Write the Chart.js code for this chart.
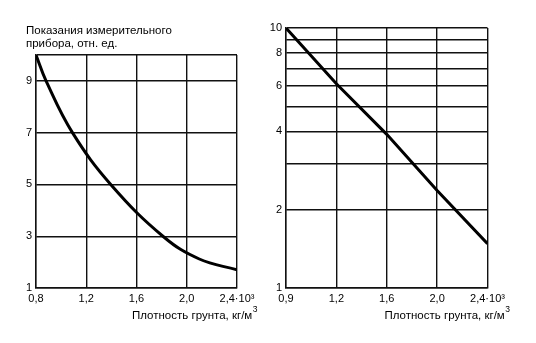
<!DOCTYPE html>
<html><head><meta charset="utf-8">
<script src="https://cdn.jsdelivr.net/npm/chart.js@4/dist/chart.umd.min.js"></script>
<style>
html,body{margin:0;padding:0;background:#fff;}
#wrap{position:relative;width:536px;height:343px;overflow:hidden;background:#fff;}
.box{position:absolute;top:0;height:343px;}
</style></head><body>
<div id="wrap">
<div class="box" style="left:0;width:268px"><canvas id="c1"></canvas></div>
<div class="box" style="left:268px;width:268px"><canvas id="c2"></canvas></div>
</div>
<script>
const yTitleLines = ['Показания измерительного', 'прибора, отн. ед.'];
const xTitle = 'Плотность грунта, кг/м';
const xTitleSup = '3';

const xTickValues = [0.8, 1.2, 1.6, 2.0, 2.4];
const xTickLabelsLeft = ['0,8', '1,2', '1,6', '2,0', '2,4·10³'];
const xTickLabelsRight = ['0,9', '1,2', '1,6', '2,0', '2,4·10³'];

const yTickValuesLeft = [1, 3, 5, 7, 9, 10];
const yTickLabelsLeft = ['1', '3', '5', '7', '9', ''];
const yTickValuesRight = [1, 2, 3, 4, 5, 6, 7, 8, 9, 10];
const yTickLabelsRight = ['1', '2', '', '4', '', '6', '', '8', '', '10'];

const densityLeft = [0.8, 0.88, 1.09, 1.4, 1.82, 2.1, 2.4];
const readingLeft = [10, 9.0, 7.0, 4.97, 2.96, 2.12, 1.70];
const densityRight = [0.8, 1.2, 1.6, 2.0, 2.4];
const readingRight = [10, 6.1, 3.9, 2.37, 1.48];

const FONT = '"Liberation Sans", Arial, sans-serif';
Chart.defaults.font.family = FONT;
Chart.defaults.font.size = 11;
Chart.defaults.color = '#000';

const textPlugin = {
  id: 'texts',
  afterDraw(chart, args, opts) {
    const ctx = chart.ctx, a = chart.chartArea;
    ctx.save();
    ctx.fillStyle = '#000';
    ctx.textBaseline = 'middle';
    ctx.textAlign = 'left';
    ctx.font = '11.5px ' + FONT;
    if (opts.yTitle) {
      opts.yTitle.forEach((t, i) => ctx.fillText(t, opts.yTitleX, opts.yTitleY + i * 12.5));
    }
    const x0 = a.right - opts.xTitleOffset;
    ctx.fillText(xTitle, x0, 316);
    const w = ctx.measureText(xTitle).width;
    ctx.font = '8.5px ' + FONT;
    ctx.fillText(xTitleSup, x0 + w + 0.5, 310);
    ctx.restore();
  }
};

function makeChart(id, cfg) {
  const gridStyle = { color: '#111', lineWidth: 1.4, drawTicks: false };
  const borderStyle = { color: '#111', width: 1.4 };
  return new Chart(document.getElementById(id), {
    type: 'line',
    data: {
      datasets: [{
        data: cfg.x.map((v, i) => ({ x: v, y: cfg.y[i] })),
        borderColor: '#000',
        borderWidth: 3,
        pointRadius: 0,
        fill: false,
        cubicInterpolationMode: 'default',
        tension: cfg.smooth ? 0.4 : 0
      }]
    },
    options: {
      responsive: true,
      maintainAspectRatio: false,
      animation: false,
      layout: { padding: cfg.padding },
      plugins: {
        legend: { display: false },
        tooltip: { enabled: false },
        texts: cfg.texts
      },
      scales: {
        x: {
          type: 'linear',
          min: 0.8, max: 2.4,
          grid: gridStyle,
          border: borderStyle,
          afterBuildTicks: s => { s.ticks = xTickValues.map(v => ({ value: v })); },
          afterFit: s => { s.height = cfg.xHeight; },
          ticks: {
            autoSkip: false, maxRotation: 0, padding: 4,
            callback: (v, i) => cfg.xLabels[i]
          }
        },
        y: {
          type: cfg.yType,
          min: 1, max: 10,
          grid: gridStyle,
          border: borderStyle,
          afterBuildTicks: s => { s.ticks = cfg.yTicks.map(v => ({ value: v })); },
          afterFit: s => { s.width = cfg.yWidth; },
          ticks: {
            autoSkip: false, padding: 4,
            callback: (v, i) => cfg.yLabels[i]
          }
        }
      }
    },
    plugins: [textPlugin]
  });
}

makeChart('c1', {
  x: densityLeft, y: readingLeft, smooth: true,
  yType: 'linear', yTicks: yTickValuesLeft, yLabels: yTickLabelsLeft,
  xLabels: xTickLabelsLeft,
  padding: { top: 55, right: 31, bottom: 0, left: 0 },
  yWidth: 36, xHeight: 55,
  texts: { yTitle: yTitleLines, yTitleX: 26, yTitleY: 31, xTitleOffset: 105 }
});

makeChart('c2', {
  x: densityRight, y: readingRight, smooth: false,
  yType: 'logarithmic', yTicks: yTickValuesRight, yLabels: yTickLabelsRight,
  xLabels: xTickLabelsRight,
  padding: { top: 28, right: 48.5, bottom: 0, left: 0 },
  yWidth: 18, xHeight: 55,
  texts: { yTitle: null, xTitleOffset: 103 }
});
</script>
</body></html>
